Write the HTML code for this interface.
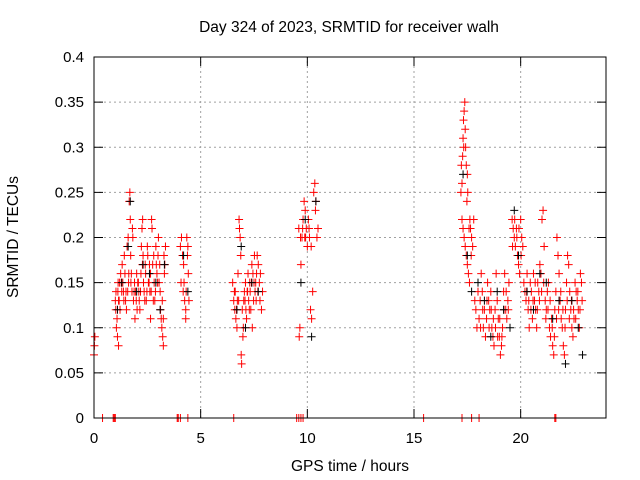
<!DOCTYPE html>
<html><head><meta charset="utf-8"><style>
body{margin:0;background:#fff;}
svg{display:block;font-family:"Liberation Sans",sans-serif;}
</style></head><body>
<svg id="chart" width="640" height="480">
<rect width="640" height="480" fill="#fff"/>
<text x="349" y="32" font-size="15.5" text-anchor="middle">Day 324 of 2023, SRMTID for receiver walh</text>
<text x="350" y="471" font-size="15.5" text-anchor="middle">GPS time / hours</text>
<text transform="translate(18,237) rotate(-90)" font-size="15.5" text-anchor="middle">SRMTID / TECUs</text>
<g id="grid"></g>
<g id="ticks"></g>
<g id="red"></g>
<g id="black"></g>
<rect x="94" y="57" width="512" height="361" fill="none" stroke="#000" stroke-width="1"/>
</svg>
<script>
const xTicks=[0,5,10,15,20];
const yTicks=[0,0.05,0.1,0.15,0.2,0.25,0.3,0.35,0.4];
const yTickLabels=["0","0.05","0.1","0.15","0.2","0.25","0.3","0.35","0.4"];
const redT=[0,0.02,0.04,1.0,1.02,1.05,1.08,1.1,1.12,1.15,1.2,1.22,1.25,1.3,1.32,1.35,1.4,1.42,1.45,1.5,1.52,1.55,1.6,1.62,1.65,1.68,1.7,1.72,1.75,1.78,1.8,1.82,1.85,1.9,1.92,1.95,2.0,2.02,2.05,2.1,2.12,2.15,2.2,2.22,2.25,2.28,2.3,2.32,2.35,2.4,2.42,2.45,2.5,2.52,2.55,2.6,2.62,2.65,2.7,2.72,2.75,2.8,2.82,2.85,2.9,2.92,2.95,3.0,3.02,3.05,3.1,3.12,3.15,3.18,3.2,3.22,3.25,3.3,3.32,
4.05,4.1,4.15,4.2,4.22,4.25,4.3,4.32,4.35,4.4,4.42,4.45,4.3,
6.5,6.55,6.6,6.62,6.65,6.7,6.72,6.75,6.8,6.82,6.85,6.88,6.9,6.92,6.95,7.0,7.02,7.05,7.1,7.12,7.15,7.2,7.22,7.25,7.3,7.32,7.35,7.4,7.45,7.5,7.52,7.55,7.6,7.62,7.65,7.7,7.75,7.8,7.85,7.9,
9.6,9.62,9.65,9.7,9.75,9.8,9.85,9.9,9.92,9.95,10.0,10.05,10.1,10.15,10.2,10.25,10.3,10.35,10.4,10.45,10.5,
17.2,17.25,17.28,17.3,17.32,17.35,17.38,17.4,17.42,17.45,17.5,17.52,17.25,17.3,17.35,17.4,17.45,17.5,17.55,17.6,17.62,17.65,17.7,17.75,17.8,17.85,17.9,17.95,18.0,
18.05,18.1,18.15,18.2,18.25,18.3,18.35,18.4,18.45,18.5,18.55,18.6,18.65,18.7,18.75,18.8,18.85,18.9,18.95,19.0,19.05,19.1,19.15,19.2,19.25,19.3,19.35,19.4,19.45,
19.6,19.65,19.7,19.75,19.8,19.85,19.9,19.95,20.0,20.05,20.1,20.15,20.2,
20.25,20.3,20.35,20.4,20.45,20.5,20.55,20.6,20.65,20.7,20.75,20.8,20.85,20.9,20.95,21.0,21.05,21.1,21.15,21.2,21.25,21.3,21.35,21.4,21.45,21.5,21.55,21.6,21.65,21.7,21.75,21.8,21.85,21.9,21.95,22.0,22.05,22.1,22.15,22.2,22.25,22.3,22.35,22.4,22.45,22.5,22.55,22.6,22.65,22.7,22.75,22.8,22.85,
0.4,0.9,0.95,1.0,3.9,3.95,4.05,4.4,6.55,9.5,9.6,9.7,9.8,15.45,17.25,17.7,18.05,21.6,21.65,
1.03,1.13,1.18,1.28,1.38,1.48,1.58,1.63,1.73,1.88,1.98,2.08,2.18,2.27,2.38,2.48,2.58,2.68,2.78,2.88,2.98,3.08,3.28,3.35,1.15,2.65,3.25,
4.08,4.18,4.38,
6.58,6.68,6.78,7.08,7.18,7.28,7.38,7.48,7.58,7.68,7.78,6.98,7.42,
9.68,9.78,9.88,10.08,10.18,10.38,
17.22,17.33,17.48,17.58,17.68,
18.12,18.22,18.42,18.52,18.62,18.72,18.82,18.92,19.02,19.12,19.22,19.32,19.42,
19.62,19.72,19.82,19.92,20.02,
20.28,20.38,20.48,20.58,20.68,20.78,20.88,20.98,21.08,21.18,21.28,21.38,21.48,21.58,21.68,21.78,21.88,21.98,22.08,22.18,22.28,22.38,22.48,22.58,22.68,22.78,22.88];
const redV=[0.07,0.08,0.09,0.13,0.12,0.10,0.11,0.09,0.14,0.13,0.15,0.12,0.16,0.14,0.17,0.15,0.13,0.18,0.16,0.14,0.12,0.19,0.2,0.15,0.24,0.25,0.22,0.18,0.16,0.14,0.21,0.2,0.13,0.15,0.11,0.14,0.16,0.12,0.15,0.14,0.13,0.12,0.16,0.19,0.21,0.22,0.18,0.15,0.14,0.17,0.16,0.13,0.19,0.18,0.15,0.17,0.14,0.16,0.22,0.21,0.17,0.18,0.15,0.13,0.19,0.17,0.16,0.18,0.2,0.15,0.14,0.12,0.11,0.10,0.13,0.09,0.11,0.16,0.17,
0.19,0.2,0.18,0.17,0.15,0.13,0.12,0.14,0.2,0.19,0.16,0.13,0.11,
0.15,0.13,0.12,0.14,0.11,0.10,0.13,0.16,0.22,0.21,0.2,0.18,0.07,0.06,0.12,0.1,0.13,0.14,0.15,0.12,0.11,0.14,0.16,0.13,0.15,0.14,0.12,0.17,0.16,0.15,0.18,0.14,0.13,0.16,0.18,0.17,0.15,0.16,0.12,0.14,
0.21,0.09,0.1,0.17,0.2,0.22,0.24,0.23,0.2,0.21,0.19,0.22,0.2,0.12,0.11,0.14,0.25,0.26,0.24,0.2,0.21,
0.25,0.26,0.29,0.31,0.33,0.34,0.35,0.32,0.3,0.28,0.27,0.25,0.22,0.21,0.2,0.19,0.18,0.17,0.16,0.15,0.22,0.21,0.2,0.19,0.22,0.13,0.12,0.1,0.14,
0.11,0.13,0.16,0.14,0.1,0.12,0.09,0.11,0.15,0.13,0.12,0.14,0.1,0.09,0.08,0.12,0.16,0.13,0.11,0.09,0.07,0.08,0.1,0.14,0.16,0.12,0.11,0.13,0.15,
0.22,0.21,0.2,0.19,0.21,0.18,0.17,0.16,0.22,0.2,0.19,0.15,0.14,
0.13,0.16,0.12,0.1,0.15,0.14,0.11,0.16,0.13,0.12,0.1,0.15,0.14,0.17,0.16,0.22,0.23,0.19,0.13,0.12,0.14,0.15,0.1,0.09,0.11,0.08,0.07,0.12,0.14,0.2,0.18,0.16,0.13,0.11,0.1,0.08,0.07,0.12,0.15,0.18,0.17,0.14,0.12,0.1,0.09,0.11,0.15,0.14,0.13,0.12,0.1,0.16,0.15,
0,0,0,0,0,0,0,0,0,0,0,0,0,0,0,0,0,0,0,
0.14,0.15,0.13,0.15,0.14,0.13,0.14,0.16,0.15,0.14,0.13,0.15,0.14,0.17,0.13,0.14,0.15,0.14,0.13,0.14,0.15,0.17,0.18,0.19,0.08,0.11,0.08,
0.15,0.14,0.18,
0.14,0.12,0.13,0.13,0.14,0.12,0.15,0.13,0.15,0.14,0.13,0.09,0.1,
0.2,0.21,0.2,0.21,0.19,0.23,
0.28,0.3,0.24,0.21,0.18,
0.1,0.12,0.13,0.1,0.12,0.11,0.1,0.09,0.11,0.09,0.12,0.14,0.12,
0.19,0.22,0.2,0.21,0.18,
0.14,0.13,0.12,0.13,0.15,0.12,0.13,0.14,0.15,0.11,0.12,0.13,0.1,0.09,0.11,0.12,0.14,0.12,0.1,0.13,0.11,0.13,0.12,0.11,0.14,0.12,0.13];
const blackT=[1.1,1.3,1.6,1.7,2.0,2.3,2.6,2.9,3.1,3.3,4.2,4.4,6.7,6.9,7.1,7.4,7.7,9.7,9.9,10.2,10.4,17.3,17.5,17.7,18.0,18.3,18.6,18.9,19.2,19.5,19.7,19.9,20.3,20.6,20.9,21.2,21.5,21.8,22.1,22.4,22.7,22.9];
const blackV=[0.12,0.15,0.19,0.24,0.14,0.17,0.16,0.15,0.12,0.17,0.18,0.14,0.12,0.19,0.1,0.15,0.14,0.15,0.22,0.09,0.24,0.27,0.18,0.14,0.15,0.13,0.09,0.14,0.12,0.1,0.23,0.18,0.14,0.12,0.16,0.15,0.11,0.13,0.06,0.13,0.1,0.07];
const X0=94,X1=606,Y0=418,Y1=57,XMAX=24,YMAX=0.4;
const xs=h=>X0+(X1-X0)*h/XMAX;
const ys=v=>Y0-(Y0-Y1)*v/YMAX;
const NS='http://www.w3.org/2000/svg';
function mk(tag,attrs,parent){const e=document.createElementNS(NS,tag);for(const k in attrs)e.setAttribute(k,attrs[k]);parent.appendChild(e);return e;}
const grid=document.getElementById('grid'),ticks=document.getElementById('ticks');
yTicks.forEach((v,i)=>{const y=ys(v);
 if(v>0&&v<YMAX){const l=mk('line',{x1:X0,x2:X1,y1:y,y2:y,stroke:'#a0a0a0','stroke-dasharray':'2,3'},grid);
 
 }
 mk('line',{x1:X0,x2:X0+9,y1:y,y2:y,stroke:'#000'},ticks);
 mk('line',{x1:X1-9,x2:X1,y1:y,y2:y,stroke:'#000'},ticks);
 const t=mk('text',{x:X0-10,y:y+5,'font-size':15,'text-anchor':'end'},ticks);t.textContent=yTickLabels[i];
 
 
});
xTicks.forEach(h=>{const x=xs(h);
 if(h>0){const l=mk('line',{x1:x,x2:x,y1:Y0,y2:Y1,stroke:'#a0a0a0','stroke-dasharray':'2,3'},grid);
 
 }
 mk('line',{x1:x,x2:x,y1:Y0,y2:Y0-9,stroke:'#000'},ticks);
 mk('line',{x1:x,x2:x,y1:Y1,y2:Y1+9,stroke:'#000'},ticks);
 const t=mk('text',{x:x,y:Y0+25,'font-size':15,'text-anchor':'middle'},ticks);t.textContent=String(h);
 
 
});
function plot(T,V,g,color,name){let d='';
 for(let i=0;i<T.length;i++){const x=xs(T[i]),y=ys(V[i]);d+=`M${x-4},${y}h8M${x},${y-4}v8`;}
 const p=mk('path',{d:d,stroke:color,'stroke-width':1,fill:'none'},g);
 
 
}
plot(blackT,blackV,document.getElementById('black'),'#000','black-points');
plot(redT,redV,document.getElementById('red'),'#ff0000','red-points');
</script>
</body></html>
